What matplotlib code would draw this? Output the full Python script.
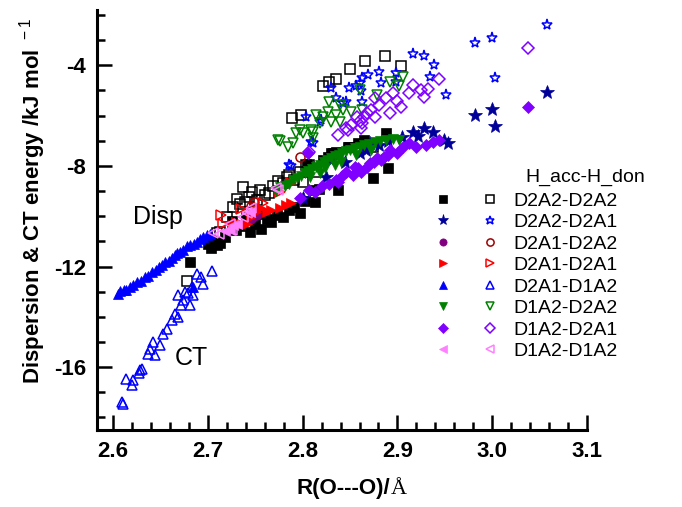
import matplotlib
matplotlib.use('Agg')
import matplotlib.pyplot as plt
from matplotlib.legend_handler import HandlerTuple
from matplotlib.ticker import MultipleLocator

plt.rcParams['font.family'] = ['Liberation Sans', 'DejaVu Sans']
plt.rcParams['mathtext.fontset'] = 'custom'
plt.rcParams['mathtext.rm'] = 'Liberation Sans'
plt.rcParams['axes.unicode_minus'] = False

# ---- data (R(O---O) in Angstrom, energy in kJ/mol) ----
# D2A2-D2A2
disp_aa_x = [2.681, 2.700, 2.703, 2.706, 2.710, 2.713, 2.718, 2.725, 2.730, 2.736, 2.744, 2.750, 2.756,
             2.762, 2.767, 2.773, 2.779, 2.786, 2.791, 2.797, 2.803, 2.811, 2.813, 2.817, 2.821, 2.827,
             2.832, 2.835, 2.837, 2.848, 2.849, 2.858, 2.865, 2.874, 2.888, 2.890, 2.725, 2.740, 2.757,
             2.805, 2.830]
disp_aa_y = [-11.83, -11.12, -11.25, -11.05, -11.15, -11.08, -10.82, -10.35, -10.55, -10.40, -10.62, -10.30,
             -10.49, -10.10, -10.22, -9.95, -10.02, -9.75, -9.62, -9.89, -9.40, -8.96, -9.43, -8.90, -7.76,
             -7.63, -7.50, -7.43, -8.96, -7.23, -7.26, -7.10, -6.97, -8.49, -6.70, -8.10, -10.20, -10.05,
             -9.90, -7.95, -7.50]
ct_aa_x = [2.678, 2.710, 2.713, 2.720, 2.726, 2.731, 2.734, 2.737, 2.739, 2.743, 2.747, 2.752, 2.755, 2.760,
           2.764, 2.769, 2.774, 2.779, 2.783, 2.786, 2.791, 2.797, 2.800, 2.804, 2.807, 2.814, 2.789, 2.798,
           2.821, 2.828, 2.835, 2.850, 2.866, 2.887, 2.904, 2.874]
ct_aa_y = [-12.57, -10.65, -10.62, -10.05, -9.65, -9.30, -9.50, -8.83, -9.43, -9.23, -9.05, -9.35, -8.96,
           -9.15, -9.07, -8.80, -8.60, -8.69, -8.45, -8.36, -8.55, -8.23, -8.63, -7.96, -7.96, -8.23, -6.10,
           -5.97, -4.82, -4.68, -4.55, -4.14, -3.81, -3.62, -4.02, -7.23]

# D2A2-D2A1
disp_ab_x = [2.800, 2.825, 2.830, 2.845, 2.860, 2.867, 2.871, 2.881, 2.890, 2.905, 2.916, 2.922, 2.928,
             2.937, 2.949, 2.953, 2.982, 3.000, 3.003, 3.058]
disp_ab_y = [-9.29, -8.43, -7.76, -7.85, -7.50, -7.37, -7.10, -7.17, -7.00, -6.85, -6.64, -6.80, -6.50,
             -6.64, -6.97, -7.10, -5.97, -5.73, -6.41, -5.08]
ct_ab_x = [2.786, 2.788, 2.804, 2.809, 2.811, 2.818, 2.819, 2.830, 2.835, 2.843, 2.846, 2.849, 2.856, 2.860,
           2.862, 2.863, 2.863, 2.869, 2.881, 2.883, 2.899, 2.899, 2.916, 2.928, 2.934, 2.939, 2.951, 2.982,
           3.000, 3.003, 3.058]
ct_ab_y = [-7.96, -8.00, -6.06, -7.04, -7.10, -6.24, -6.17, -4.90, -5.31, -5.51, -5.44, -4.91, -4.84, -4.71,
           -5.04, -5.44, -4.51, -4.38, -4.25, -4.71, -4.31, -4.65, -3.54, -3.62, -4.45, -3.98, -5.18, -3.12,
           -2.92, -4.49, -2.39]

# D2A1-D2A2
disp_ba_x = [2.745, 2.748, 2.752]
disp_ba_y = [-10.12, -10.02, -9.95]
ct_ba_x = [2.745, 2.749, 2.797]
ct_ba_y = [-9.60, -9.43, -7.63]

# D2A1-D2A1
disp_bb_x = [2.725, 2.730, 2.736, 2.741, 2.746, 2.751, 2.756, 2.762, 2.767, 2.776, 2.782, 2.788]
disp_bb_y = [-10.35, -10.22, -10.30, -10.29, -10.05, -9.82, -9.69, -9.85, -9.76, -9.69, -9.55, -9.49]
ct_bb_x = [2.714, 2.716, 2.735, 2.758, 2.776, 2.788]
ct_bb_y = [-9.96, -10.29, -9.70, -9.49, -9.03, -8.66]

# D2A1-D1A2
disp_bc_x = [2.605, 2.607, 2.611, 2.614, 2.618, 2.621, 2.625, 2.629, 2.634, 2.637, 2.641, 2.645, 2.648,
             2.652, 2.655, 2.659, 2.662, 2.665, 2.667, 2.671, 2.674, 2.678, 2.681, 2.685, 2.688, 2.692,
             2.695, 2.699, 2.702, 2.684]
disp_bc_y = [-13.10, -12.98, -12.94, -12.95, -12.81, -12.72, -12.61, -12.58, -12.41, -12.38, -12.21, -12.15,
             -12.02, -11.95, -11.82, -11.78, -11.68, -11.55, -11.48, -11.42, -11.35, -11.20, -11.15, -11.10,
             -11.02, -10.90, -10.82, -10.75, -10.69, -12.80]
ct_bc_x = [2.609, 2.610, 2.614, 2.620, 2.621, 2.627, 2.628, 2.631, 2.637, 2.639, 2.642, 2.644, 2.650, 2.653,
           2.657, 2.662, 2.665, 2.669, 2.669, 2.672, 2.674, 2.676, 2.679, 2.681, 2.683, 2.684, 2.688, 2.693,
           2.695, 2.704]
ct_bc_y = [-17.39, -17.45, -16.46, -16.73, -16.53, -16.24, -16.13, -16.06, -15.47, -15.27, -15.00, -15.53,
           -15.14, -14.67, -14.47, -14.14, -13.87, -14.00, -13.14, -13.54, -13.34, -13.00, -13.07, -13.54,
           -12.81, -13.14, -12.28, -12.41, -12.68, -12.17]

# D1A2-D2A2
disp_ca_x = [2.772, 2.776, 2.781, 2.786, 2.790, 2.794, 2.798, 2.802, 2.806, 2.810, 2.814, 2.818, 2.822,
             2.826, 2.830, 2.834, 2.838, 2.842, 2.846, 2.850, 2.855, 2.860, 2.865, 2.870, 2.876, 2.882,
             2.888, 2.895, 2.902, 2.808, 2.824, 2.840, 2.856, 2.872, 2.818, 2.834]
disp_ca_y = [-9.00, -8.85, -8.80, -8.70, -8.55, -8.50, -8.40, -8.30, -8.20, -8.12, -8.05, -7.95, -7.85,
             -7.78, -7.70, -7.62, -7.55, -7.48, -7.42, -7.38, -7.30, -7.25, -7.18, -7.12, -7.05, -7.00,
             -6.97, -6.92, -6.95, -8.45, -8.10, -7.85, -7.58, -7.35, -8.30, -7.95]
ct_ca_x = [2.774, 2.776, 2.785, 2.790, 2.793, 2.797, 2.800, 2.809, 2.811, 2.811, 2.814, 2.818, 2.821, 2.827,
           2.828, 2.830, 2.835, 2.839, 2.839, 2.843, 2.851, 2.860, 2.863, 2.878, 2.892, 2.902, 2.906]
ct_ca_y = [-6.97, -7.00, -7.23, -7.10, -6.70, -6.57, -6.70, -6.57, -6.90, -6.64, -5.97, -6.30, -6.04, -5.84,
           -5.44, -6.24, -5.97, -5.57, -6.24, -5.77, -5.84, -4.98, -5.77, -5.18, -4.65, -4.84, -4.45]

# D1A2-D2A1
disp_cb_x = [2.797, 2.807, 2.813, 2.820, 2.828, 2.835, 2.837, 2.846, 2.853, 2.855, 2.862, 2.868, 2.871,
             2.878, 2.886, 2.892, 2.900, 2.906, 2.912, 2.920, 2.930, 2.937, 2.944, 2.806, 3.038, 2.842,
             2.858, 2.875, 2.890, 2.883]
disp_cb_y = [-9.29, -8.96, -9.03, -8.80, -8.70, -8.56, -8.63, -8.23, -8.36, -8.03, -8.23, -8.05, -7.90,
             -7.70, -7.63, -7.37, -7.50, -7.23, -7.10, -7.23, -7.17, -7.05, -6.97, -7.50, -5.64, -8.40,
             -8.10, -7.85, -7.55, -7.75]
ct_cb_x = [2.807, 2.837, 2.846, 2.848, 2.851, 2.857, 2.860, 2.862, 2.863, 2.865, 2.868, 2.872, 2.876, 2.876,
           2.881, 2.888, 2.892, 2.895, 2.900, 2.904, 2.912, 2.916, 2.925, 2.928, 2.932, 2.944, 3.038]
ct_cb_y = [-7.43, -6.77, -6.50, -6.57, -6.37, -6.04, -6.20, -6.50, -6.30, -6.04, -5.90, -5.77, -5.31, -6.04,
           -5.57, -5.31, -5.90, -5.11, -5.40, -5.64, -5.11, -4.78, -5.00, -5.27, -4.95, -4.55, -3.31]

# D1A2-D1A2
disp_cc_x = [2.718, 2.723, 2.727, 2.731, 2.744]
disp_cc_y = [-10.60, -10.55, -10.35, -10.30, -9.82]
ct_cc_x = [2.705, 2.712, 2.723, 2.725, 2.737, 2.741, 2.746, 2.772, 2.774]
ct_cc_y = [-10.65, -10.70, -10.29, -10.55, -10.05, -9.89, -9.69, -8.89, -8.96]

labels = ['D2A2-D2A2', 'D2A2-D2A1', 'D2A1-D2A2', 'D2A1-D2A1',
          'D2A1-D1A2', 'D1A2-D2A2', 'D1A2-D2A1', 'D1A2-D1A2']

# label, marker, filled colour, open colour, marker size, disp x/y, ct x/y
series = [
    (labels[0], 's', '#000000', '#000000', 6.5, disp_aa_x, disp_aa_y, ct_aa_x, ct_aa_y),
    (labels[1], '*', '#000099', '#0000FF', 10, disp_ab_x, disp_ab_y, ct_ab_x, ct_ab_y),
    (labels[2], 'o', '#800080', '#A00000', 6.5, disp_ba_x, disp_ba_y, ct_ba_x, ct_ba_y),
    (labels[3], '>', '#FF0000', '#FF0000', 7.5, disp_bb_x, disp_bb_y, ct_bb_x, ct_bb_y),
    (labels[4], '^', '#0000FF', '#0000FF', 7.5, disp_bc_x, disp_bc_y, ct_bc_x, ct_bc_y),
    (labels[5], 'v', '#008000', '#008000', 7.5, disp_ca_x, disp_ca_y, ct_ca_x, ct_ca_y),
    (labels[6], 'D', '#8000FF', '#8000FF', 6.5, disp_cb_x, disp_cb_y, ct_cb_x, ct_cb_y),
    (labels[7], '<', '#FF80FF', '#FF80FF', 7.5, disp_cc_x, disp_cc_y, ct_cc_x, ct_cc_y),
]

fig = plt.figure(figsize=(6.82, 5.07), dpi=100)
ax = fig.add_axes([0.1422, 0.1519, 0.7185, 0.8284])

handles = []
for lab, mk, cf, co, ms, dx, dy, cx, cy in series:
    ms_open = ms * 0.8 if mk == '*' else ms
    h_open, = ax.plot(cx, cy, linestyle='none', marker=mk, markersize=ms_open,
                      markerfacecolor='none', markeredgecolor=co, markeredgewidth=1.1)
    h_fill, = ax.plot(dx, dy, linestyle='none', marker=mk, markersize=ms,
                      markerfacecolor=cf, markeredgecolor=cf, markeredgewidth=0.5)
    handles.append((h_fill, h_open))

ax.set_xlim(2.583, 3.1)
ax.set_ylim(-18.5, -1.8)
ax.xaxis.set_minor_locator(MultipleLocator(0.02))
ax.yaxis.set_minor_locator(MultipleLocator(1))
ax.set_xticks([2.6, 2.7, 2.8, 2.9, 3.0, 3.1])
ax.set_xticklabels(['2.6', '2.7', '2.8', '2.9', '3.0', '3.1'])
ax.set_yticks([-16, -12, -8, -4])
ax.set_yticklabels(['-16', '-12', '-8', '-4'])

for side in ['top', 'right']:
    ax.spines[side].set_visible(False)
for side in ['left', 'bottom']:
    ax.spines[side].set_linewidth(2.2)
ax.tick_params(which='major', direction='in', length=11, width=1.8, pad=8,
               labelsize=16)
ax.tick_params(which='minor', direction='in', length=6, width=1.8)
for t in ax.get_xticklabels() + ax.get_yticklabels():
    t.set_fontweight('bold')

# axis labels
fig.text(390 / 682, 1 - 494 / 507, 'R(O---O)/', ha='right', va='baseline',
         fontsize=16, fontweight='bold')
fig.text(391 / 682, 1 - 494 / 507, 'Å', ha='left', va='baseline',
         fontsize=16, family='Liberation Serif')
fig.text(33 / 682, 1 - 201 / 507, 'Dispersion & CT energy /kJ mol $^{\\rm -1}$',
         rotation=90, ha='center', va='center', fontsize=16, fontweight='bold')

ax.text(2.647, -10.04, 'Disp', fontsize=18, ha='center', va='center')
ax.text(2.683, -15.65, 'CT', fontsize=18, ha='center', va='center')

# legend: filled marker = Disp, open marker = CT
leg = ax.legend(handles, labels, handler_map={tuple: HandlerTuple(ndivide=None, pad=0)},
                loc='upper left', bbox_to_anchor=(419.5 / 682, 1 - 192 / 507),
                bbox_transform=fig.transFigure, frameon=False, fontsize=14,
                handlelength=4.84, handletextpad=0.0, labelspacing=0.2,
                borderpad=0, borderaxespad=0, markerscale=0.8)
fig.text(585 / 682, 1 - 177 / 507, 'H_acc-H_don', ha='center', va='center', fontsize=14)

fig.savefig('out.png', dpi=100)
